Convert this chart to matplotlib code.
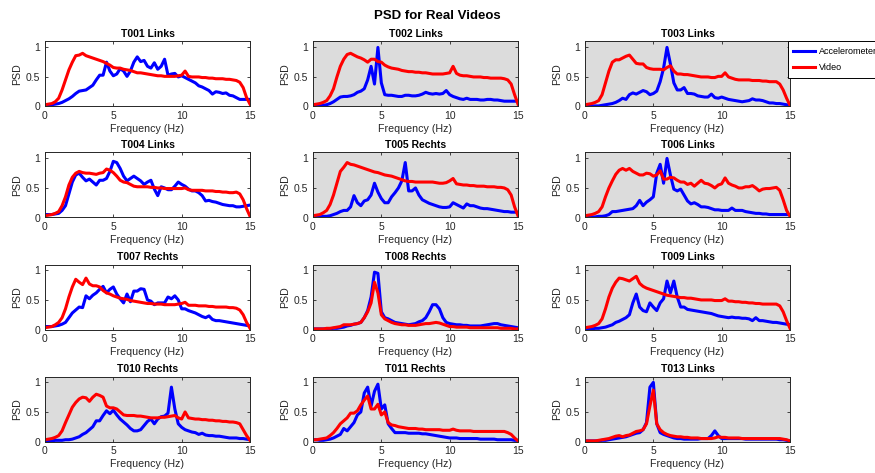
import numpy as np
import matplotlib
matplotlib.use('Agg')
import matplotlib.pyplot as plt

plt.rcParams['font.family'] = ['Liberation Sans', 'DejaVu Sans']

# frequency axis (Hz), 0.25 Hz resolution
freq = np.arange(61) * 0.25

titles = ['T001 Links', 'T002 Links', 'T003 Links',
          'T004 Links', 'T005 Rechts', 'T006 Links',
          'T007 Rechts', 'T008 Rechts', 'T009 Links',
          'T010 Rechts', 'T011 Rechts', 'T013 Links']

series_labels = ['Accelerometer', 'Video']
x_ticks = [0, 5, 10, 15]
y_ticks = [0, 0.5, 1]
y_ticklabels = ['0', '0.5', '1']

acc_t001 = [0.02,0.02,0.03,0.04, 0.05,0.07,0.10,0.13, 0.17,0.22,0.26,0.27, 0.28,0.32,0.36,0.45,
            0.53,0.53,0.75,0.60, 0.52,0.55,0.64,0.60, 0.51,0.60,0.75,0.84, 0.76,0.78,0.68,0.65,
            0.74,0.63,0.68,0.80, 0.53,0.55,0.56,0.50, 0.52,0.49,0.46,0.43, 0.40,0.35,0.33,0.30,
            0.27,0.21,0.25,0.24, 0.22,0.23,0.19,0.18, 0.15,0.12,0.12,0.12, 0.12]
vid_t001 = [0.03,0.04,0.05,0.08, 0.14,0.28,0.45,0.62, 0.75,0.86,0.87,0.90, 0.86,0.84,0.82,0.80,
            0.78,0.76,0.73,0.70, 0.66,0.65,0.65,0.63, 0.62,0.61,0.59,0.57, 0.57,0.56,0.55,0.54,
            0.53,0.52,0.52,0.51, 0.51,0.51,0.51,0.52, 0.53,0.60,0.51,0.50, 0.50,0.50,0.49,0.49,
            0.48,0.48,0.47,0.47, 0.47,0.46,0.46,0.45, 0.44,0.41,0.32,0.15, 0.04]

acc_t002 = [0.01,0.01,0.01,0.02, 0.03,0.05,0.08,0.12, 0.16,0.17,0.17,0.18, 0.20,0.24,0.26,0.30,
            0.45,0.68,0.38,1.00, 0.40,0.20,0.19,0.19, 0.18,0.17,0.17,0.19, 0.19,0.18,0.18,0.19,
            0.21,0.24,0.22,0.21, 0.22,0.21,0.22,0.27, 0.20,0.17,0.15,0.13, 0.12,0.14,0.12,0.12,
            0.12,0.11,0.11,0.12, 0.12,0.11,0.11,0.10, 0.09,0.09,0.09,0.09, 0.09]
vid_t002 = [0.03,0.04,0.05,0.07, 0.10,0.18,0.30,0.50, 0.68,0.80,0.88,0.90, 0.87,0.84,0.82,0.79,
            0.75,0.80,0.80,0.76, 0.75,0.70,0.67,0.65, 0.64,0.63,0.61,0.60, 0.59,0.59,0.58,0.58,
            0.57,0.57,0.56,0.55, 0.55,0.55,0.55,0.56, 0.57,0.68,0.56,0.53, 0.52,0.52,0.51,0.50,
            0.50,0.50,0.49,0.49, 0.48,0.48,0.48,0.48, 0.47,0.45,0.38,0.20, 0.04]

acc_t003 = [0.01,0.01,0.01,0.01, 0.01,0.02,0.03,0.04, 0.05,0.07,0.10,0.14, 0.12,0.20,0.23,0.21,
            0.24,0.27,0.25,0.20, 0.22,0.26,0.42,0.65, 1.00,0.72,0.40,0.28, 0.28,0.32,0.22,0.22,
            0.21,0.18,0.17,0.16, 0.16,0.21,0.15,0.14, 0.16,0.14,0.12,0.11, 0.10,0.09,0.08,0.09,
            0.10,0.13,0.11,0.11, 0.10,0.08,0.06,0.06, 0.05,0.05,0.04,0.03, 0.02]
vid_t003 = [0.03,0.04,0.05,0.07, 0.10,0.20,0.40,0.60, 0.75,0.79,0.79,0.82, 0.85,0.87,0.80,0.73,
            0.72,0.72,0.66,0.64, 0.63,0.63,0.63,0.62, 0.66,0.69,0.60,0.55, 0.55,0.54,0.54,0.53,
            0.52,0.51,0.50,0.50, 0.50,0.49,0.49,0.51, 0.51,0.57,0.50,0.48, 0.46,0.45,0.45,0.45,
            0.45,0.44,0.44,0.44, 0.43,0.43,0.42,0.42, 0.42,0.38,0.28,0.14, 0.02]

acc_t004 = [0.05,0.05,0.05,0.06, 0.07,0.12,0.20,0.40, 0.60,0.72,0.75,0.68, 0.62,0.65,0.60,0.55,
            0.63,0.63,0.66,0.78, 0.95,0.93,0.83,0.70, 0.62,0.66,0.70,0.66, 0.62,0.56,0.60,0.63,
            0.48,0.37,0.52,0.50, 0.47,0.47,0.53,0.60, 0.56,0.53,0.48,0.45, 0.45,0.42,0.37,0.28,
            0.29,0.27,0.26,0.24, 0.22,0.21,0.20,0.20, 0.18,0.18,0.19,0.20, 0.21]
vid_t004 = [0.03,0.04,0.05,0.07, 0.10,0.20,0.35,0.55, 0.68,0.75,0.78,0.76, 0.75,0.75,0.74,0.73,
            0.75,0.76,0.82,0.80, 0.76,0.70,0.63,0.60, 0.59,0.56,0.53,0.52, 0.52,0.52,0.52,0.51,
            0.51,0.50,0.50,0.49, 0.49,0.49,0.49,0.49, 0.49,0.50,0.47,0.46, 0.46,0.46,0.46,0.45,
            0.45,0.45,0.44,0.44, 0.43,0.43,0.42,0.42, 0.43,0.40,0.30,0.15, 0.02]

acc_t005 = [0.01,0.01,0.01,0.02, 0.02,0.03,0.05,0.07, 0.10,0.12,0.12,0.18, 0.37,0.25,0.20,0.28,
            0.30,0.38,0.58,0.43, 0.32,0.25,0.25,0.35, 0.42,0.50,0.62,0.93, 0.45,0.45,0.50,0.38,
            0.30,0.27,0.24,0.22, 0.20,0.18,0.17,0.17, 0.18,0.25,0.22,0.19, 0.16,0.23,0.20,0.20,
            0.18,0.16,0.15,0.15, 0.14,0.13,0.12,0.11, 0.10,0.10,0.09,0.09, 0.09]
vid_t005 = [0.03,0.04,0.05,0.08, 0.12,0.22,0.38,0.58, 0.78,0.85,0.93,0.90, 0.89,0.87,0.85,0.83,
            0.81,0.79,0.77,0.76, 0.74,0.72,0.71,0.70, 0.68,0.66,0.64,0.62, 0.61,0.61,0.60,0.60,
            0.60,0.60,0.60,0.60, 0.59,0.58,0.58,0.59, 0.62,0.66,0.57,0.56, 0.55,0.55,0.54,0.54,
            0.53,0.53,0.53,0.52, 0.52,0.52,0.51,0.51, 0.50,0.47,0.38,0.18, 0.03]

acc_t006 = [0.01,0.01,0.01,0.01, 0.02,0.02,0.03,0.05, 0.10,0.10,0.11,0.12, 0.13,0.14,0.15,0.20,
            0.29,0.20,0.26,0.30, 0.35,0.75,0.90,0.58, 1.00,0.72,0.48,0.45, 0.48,0.38,0.28,0.23,
            0.25,0.22,0.18,0.18, 0.17,0.15,0.13,0.13, 0.12,0.12,0.12,0.16, 0.12,0.12,0.12,0.10,
            0.09,0.08,0.07,0.07, 0.06,0.06,0.05,0.05, 0.05,0.05,0.05,0.05, 0.05]
vid_t006 = [0.03,0.04,0.05,0.07, 0.10,0.18,0.35,0.50, 0.62,0.73,0.80,0.83, 0.80,0.83,0.78,0.75,
            0.72,0.72,0.75,0.74, 0.70,0.72,0.79,0.65, 0.65,0.68,0.67,0.63, 0.60,0.60,0.56,0.58,
            0.53,0.58,0.63,0.58, 0.57,0.54,0.50,0.55, 0.57,0.67,0.58,0.55, 0.53,0.50,0.50,0.52,
            0.52,0.54,0.50,0.45, 0.48,0.49,0.49,0.50, 0.51,0.46,0.30,0.12, 0.02]

acc_t007 = [0.05,0.05,0.05,0.06, 0.07,0.09,0.12,0.20, 0.28,0.33,0.38,0.37, 0.57,0.52,0.58,0.62,
            0.68,0.73,0.62,0.68, 0.72,0.60,0.52,0.45, 0.60,0.47,0.65,0.65, 0.69,0.68,0.50,0.48,
            0.42,0.45,0.45,0.45, 0.55,0.52,0.57,0.50, 0.35,0.35,0.32,0.30, 0.28,0.25,0.22,0.20,
            0.23,0.17,0.15,0.15, 0.14,0.13,0.12,0.11, 0.10,0.09,0.08,0.07, 0.06]
vid_t007 = [0.03,0.04,0.05,0.08, 0.12,0.20,0.35,0.55, 0.72,0.85,0.80,0.76, 0.87,0.77,0.74,0.74,
            0.72,0.66,0.62,0.60, 0.57,0.55,0.53,0.52, 0.51,0.49,0.48,0.47, 0.46,0.45,0.44,0.44,
            0.43,0.43,0.43,0.42, 0.42,0.42,0.42,0.43, 0.44,0.46,0.41,0.41, 0.41,0.40,0.40,0.40,
            0.39,0.39,0.38,0.38, 0.38,0.38,0.37,0.37, 0.36,0.33,0.25,0.12, 0.02]

acc_t008 = [0.01,0.01,0.01,0.01, 0.01,0.01,0.02,0.02, 0.03,0.04,0.06,0.07, 0.09,0.10,0.12,0.20,
            0.32,0.55,0.97,0.95, 0.30,0.20,0.18,0.15, 0.12,0.11,0.10,0.09, 0.08,0.09,0.10,0.13,
            0.15,0.20,0.30,0.42, 0.42,0.35,0.20,0.12, 0.10,0.09,0.08,0.08, 0.07,0.07,0.06,0.06,
            0.06,0.06,0.07,0.08, 0.09,0.10,0.10,0.08, 0.07,0.06,0.05,0.04, 0.03]
vid_t008 = [0.01,0.01,0.01,0.01, 0.02,0.02,0.03,0.04, 0.05,0.08,0.08,0.08, 0.09,0.10,0.12,0.20,
            0.30,0.45,0.80,0.62, 0.25,0.18,0.15,0.12, 0.10,0.09,0.08,0.08, 0.07,0.07,0.07,0.08,
            0.09,0.10,0.10,0.11, 0.12,0.11,0.09,0.07, 0.05,0.05,0.04,0.04, 0.04,0.04,0.03,0.03,
            0.03,0.03,0.03,0.03, 0.03,0.03,0.03,0.02, 0.02,0.02,0.02,0.01, 0.01]

acc_t009 = [0.01,0.01,0.01,0.02, 0.02,0.03,0.04,0.06, 0.08,0.12,0.14,0.17, 0.20,0.25,0.45,0.60,
            0.38,0.32,0.30,0.45, 0.38,0.32,0.45,0.52, 0.82,0.62,0.82,0.55, 0.38,0.38,0.34,0.33,
            0.32,0.31,0.30,0.29, 0.28,0.27,0.25,0.23, 0.22,0.21,0.20,0.21, 0.20,0.20,0.19,0.19,
            0.18,0.15,0.20,0.15, 0.15,0.14,0.13,0.12, 0.12,0.11,0.10,0.09, 0.08]
vid_t009 = [0.03,0.04,0.05,0.07, 0.10,0.18,0.35,0.55, 0.70,0.80,0.87,0.86, 0.84,0.82,0.86,0.90,
            0.78,0.73,0.70,0.68, 0.66,0.64,0.62,0.60, 0.58,0.57,0.56,0.55, 0.54,0.54,0.53,0.53,
            0.52,0.51,0.50,0.50, 0.50,0.50,0.49,0.49, 0.49,0.52,0.48,0.48, 0.47,0.47,0.46,0.46,
            0.45,0.45,0.44,0.44, 0.43,0.43,0.43,0.43, 0.43,0.40,0.30,0.15, 0.02]

acc_t010 = [0.01,0.01,0.01,0.02, 0.02,0.02,0.03,0.03, 0.04,0.06,0.08,0.12, 0.15,0.20,0.25,0.35,
            0.35,0.44,0.52,0.47, 0.53,0.45,0.38,0.33, 0.28,0.22,0.18,0.18, 0.20,0.27,0.34,0.38,
            0.30,0.38,0.42,0.43, 0.48,0.92,0.55,0.30, 0.24,0.20,0.18,0.16, 0.15,0.12,0.14,0.11,
            0.10,0.10,0.09,0.09, 0.08,0.07,0.06,0.06, 0.06,0.05,0.05,0.04, 0.03]
vid_t010 = [0.03,0.04,0.05,0.07, 0.10,0.18,0.32,0.45, 0.58,0.66,0.72,0.75, 0.74,0.68,0.75,0.80,
            0.78,0.75,0.60,0.57, 0.57,0.55,0.50,0.45, 0.44,0.44,0.44,0.43, 0.43,0.42,0.41,0.40,
            0.40,0.40,0.41,0.41, 0.42,0.43,0.44,0.40, 0.38,0.50,0.40,0.39, 0.38,0.38,0.37,0.37,
            0.36,0.36,0.35,0.35, 0.34,0.34,0.33,0.33, 0.32,0.30,0.20,0.10, 0.02]

acc_t011 = [0.03,0.03,0.02,0.02, 0.03,0.04,0.06,0.09, 0.12,0.22,0.18,0.25, 0.32,0.45,0.50,0.82,
            0.92,0.60,0.85,0.97, 0.55,0.62,0.30,0.22, 0.15,0.15,0.15,0.15, 0.14,0.14,0.14,0.14,
            0.13,0.13,0.12,0.11, 0.10,0.09,0.08,0.07, 0.06,0.06,0.06,0.05, 0.05,0.05,0.05,0.05,
            0.05,0.04,0.04,0.04, 0.04,0.04,0.03,0.03, 0.03,0.03,0.03,0.02, 0.02]
vid_t011 = [0.03,0.03,0.04,0.05, 0.06,0.10,0.15,0.22, 0.30,0.35,0.40,0.48, 0.48,0.52,0.62,0.70,
            0.77,0.55,0.55,0.63, 0.45,0.50,0.32,0.28, 0.27,0.25,0.24,0.23, 0.22,0.22,0.22,0.21,
            0.21,0.20,0.20,0.20, 0.20,0.20,0.19,0.19, 0.19,0.21,0.19,0.18, 0.18,0.18,0.18,0.17,
            0.17,0.17,0.17,0.17, 0.17,0.17,0.17,0.17, 0.17,0.15,0.12,0.06, 0.01]

acc_t013 = [0.01,0.01,0.01,0.01, 0.01,0.02,0.02,0.03, 0.04,0.05,0.06,0.07, 0.08,0.10,0.12,0.14,
            0.15,0.20,0.32,0.92, 1.00,0.30,0.15,0.12, 0.10,0.08,0.06,0.05, 0.05,0.04,0.04,0.04,
            0.04,0.04,0.05,0.05, 0.05,0.10,0.18,0.10, 0.05,0.05,0.05,0.05, 0.05,0.05,0.05,0.04,
            0.04,0.04,0.04,0.04, 0.04,0.04,0.04,0.04, 0.04,0.03,0.03,0.02, 0.01]
vid_t013 = [0.01,0.01,0.01,0.01, 0.02,0.03,0.04,0.05, 0.07,0.09,0.10,0.08, 0.10,0.11,0.14,0.17,
            0.18,0.20,0.30,0.60, 0.87,0.30,0.20,0.15, 0.12,0.10,0.09,0.08, 0.08,0.07,0.07,0.06,
            0.06,0.06,0.05,0.05, 0.05,0.05,0.06,0.08, 0.07,0.07,0.06,0.06, 0.06,0.06,0.05,0.05,
            0.05,0.05,0.05,0.05, 0.05,0.05,0.05,0.05, 0.05,0.05,0.04,0.03, 0.01]

acc_all = [acc_t001, acc_t002, acc_t003, acc_t004, acc_t005, acc_t006,
           acc_t007, acc_t008, acc_t009, acc_t010, acc_t011, acc_t013]
vid_all = [vid_t001, vid_t002, vid_t003, vid_t004, vid_t005, vid_t006,
           vid_t007, vid_t008, vid_t009, vid_t010, vid_t011, vid_t013]

# ---- layout / style ----
W, H = 875, 473
fig = plt.figure(figsize=(W / 100, H / 100), dpi=100)
fig.patch.set_facecolor('white')

col_left = [45, 313, 585]
row_top = [41.5, 152.5, 264.5, 376.5]
ax_w, ax_h = 205, 65
grey_panel = [False, True, True, False, True, True, False, True, True, True, True, True]
txt_col = '#262626'

axes = []
for i in range(12):
    r, c = divmod(i, 3)
    ax = fig.add_axes([col_left[c] / W, 1 - (row_top[r] + ax_h) / H, ax_w / W, ax_h / H])
    ax.set_facecolor('#dcdcdc' if grey_panel[i] else 'white')
    la, = ax.plot(freq, acc_all[i], color='#0000ff', lw=2.2, solid_joinstyle='round')
    lv, = ax.plot(freq, vid_all[i], color='#ff0000', lw=2.2, solid_joinstyle='round')
    ax.set_xlim(0, 15)
    ax.set_ylim(0, 1.1)
    ax.set_xticks(x_ticks)
    ax.set_yticks(y_ticks)
    ax.set_yticklabels(y_ticklabels)
    ax.tick_params(direction='in', length=2.5, width=0.6, top=True, right=True,
                   labelsize=7.5, colors=txt_col, pad=3.5)
    for s in ax.spines.values():
        s.set_linewidth(0.7)
        s.set_color(txt_col)
    ax.set_title(titles[i], fontsize=7.5, fontweight='bold', pad=3.5, color='black')
    ax.set_xlabel('Frequency (Hz)', fontsize=7.7, color=txt_col, labelpad=2)
    ax.set_ylabel('PSD', fontsize=7.7, color=txt_col, labelpad=2.5)
    axes.append((la, lv))

fig.text(437 / W, 1 - 16 / H, 'PSD for Real Videos', ha='center', va='center',
         fontsize=9.5, fontweight='bold')

leg = fig.legend(list(axes[2]), series_labels, loc='upper left',
                 bbox_to_anchor=(788 / W, 1 - 41.5 / H), fontsize=6.5,
                 frameon=True, fancybox=False, edgecolor='black', framealpha=1,
                 handlelength=2.4, handletextpad=0.4, borderpad=0.6, labelspacing=0.8,
                 borderaxespad=0)
leg.get_frame().set_linewidth(0.7)

fig.savefig('out.png', dpi=100)
